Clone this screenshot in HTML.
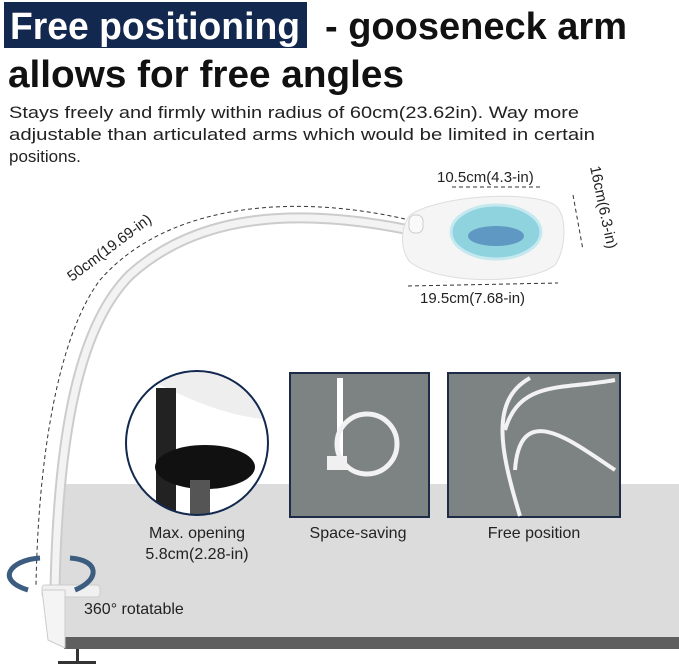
<!DOCTYPE html>
<html><head><meta charset="utf-8"><style>
body{margin:0;width:679px;height:672px;overflow:hidden;background:#fff;font-family:"Liberation Sans",sans-serif}
svg{position:absolute;left:0;top:0}
</style></head><body>
<svg width="679" height="672" viewBox="0 0 679 672" font-family="Liberation Sans, sans-serif">
<rect x="58" y="484" width="621" height="153" fill="#dcdcdc"/>
<rect x="64" y="637" width="615" height="12" fill="#5f5f5f"/>
<rect x="4" y="2" width="303" height="46" fill="#13284f"/>
<text x="10" y="39" font-size="38" font-weight="bold" fill="#fff" textLength="290" lengthAdjust="spacingAndGlyphs">Free positioning</text>
<text x="325" y="39" font-size="38" font-weight="bold" fill="#111" textLength="302" lengthAdjust="spacingAndGlyphs">- gooseneck arm</text>
<text x="8" y="87" font-size="38" font-weight="bold" fill="#111" textLength="396" lengthAdjust="spacingAndGlyphs">allows for free angles</text>
<g font-size="17" fill="#222">
<text x="9" y="118" textLength="570" lengthAdjust="spacingAndGlyphs">Stays freely and firmly within radius of 60cm(23.62in). Way more</text>
<text x="9" y="140" textLength="586" lengthAdjust="spacingAndGlyphs">adjustable than articulated arms which would be limited in certain</text>
<text x="9" y="162">positions.</text>
</g>
<path d="M405 219 C300 195 170 200 100 280 C55 340 38 470 36 585" fill="none" stroke="#333" stroke-width="1" stroke-dasharray="4 3"/>
<path d="M410 230 C300 208 200 212 130 275 C80 325 58 430 55 590" fill="none" stroke="#ccc" stroke-width="11"/>
<path d="M410 230 C300 208 200 212 130 275 C80 325 58 430 55 590" fill="none" stroke="#f3f3f3" stroke-width="7"/>
<rect x="42" y="585" width="58" height="12" rx="3" fill="#f0f0f0" stroke="#ccc"/>
<path d="M42 590 L65 590 L65 648 L48 640 Z" fill="#f4f4f4" stroke="#ccc"/>
<rect x="76" y="649" width="3" height="15" fill="#333"/>
<rect x="58" y="661" width="38" height="3" fill="#333"/>
<path d="M28 590 C-5 580 10 560 40 558 M70 558 C100 560 100 580 75 590" fill="none" stroke="#3c5c80" stroke-width="5"/>
<text x="84" y="614" font-size="16" fill="#222">360° rotatable</text>
<text transform="translate(72 282) rotate(-37)" font-size="15" fill="#222">50cm(19.69-in)</text>
<path d="M410 215 C440 195 530 190 555 205 C568 215 566 250 555 265 C530 285 440 285 410 262 C400 250 400 228 410 215Z" fill="#f5f5f5" stroke="#ddd"/>
<ellipse cx="496" cy="232" rx="45" ry="27" fill="#8fd3df" stroke="#c6e9ef" stroke-width="3"/>
<ellipse cx="496" cy="236" rx="28" ry="10" fill="#2f5da8" opacity="0.5"/>
<rect x="409" y="215" width="14" height="18" rx="6" fill="#fafafa" stroke="#ccc"/>
<g stroke="#333" stroke-dasharray="4 3" fill="none">
<path d="M452 187 L540 187"/><path d="M408 286 L558 283"/><path d="M573 195 L583 250"/>
</g>
<text x="437" y="182" font-size="15" fill="#222">10.5cm(4.3-in)</text>
<text x="420" y="303" font-size="15" fill="#222">19.5cm(7.68-in)</text>
<text transform="translate(590 167) rotate(78)" font-size="15" fill="#222">16cm(6.3-in)</text>
<clipPath id="c"><ellipse cx="197" cy="443" rx="71" ry="72"/></clipPath>
<g clip-path="url(#c)">
<rect x="120" y="370" width="160" height="150" fill="#fff"/>
<path d="M150 370 L280 370 L280 420 C230 420 180 395 150 380Z" fill="#eee"/>
<rect x="156" y="388" width="20" height="130" fill="#222"/>
<ellipse cx="205" cy="467" rx="50" ry="22" fill="#111"/>
<rect x="190" y="480" width="20" height="40" fill="#555"/>
</g>
<ellipse cx="197" cy="443" rx="71" ry="72" fill="none" stroke="#13284f" stroke-width="2"/>
<rect x="290" y="373" width="139" height="144" fill="#7d8283" stroke="#1d2b46" stroke-width="2"/>
<path d="M340 378 L340 470" stroke="#fff" stroke-width="6" fill="none"/>
<circle cx="367" cy="444" r="30" fill="none" stroke="#f2f2f2" stroke-width="5"/>
<rect x="327" y="456" width="20" height="14" fill="#f0f0f0"/>
<rect x="448" y="373" width="172" height="144" fill="#7d8283" stroke="#1d2b46" stroke-width="2"/>
<path d="M530 378 C490 400 500 450 520 516 M505 430 C520 380 560 390 615 380 M515 470 C520 400 570 440 615 470" stroke="#f2f2f2" stroke-width="4" fill="none"/>
<g font-size="16" fill="#222" text-anchor="middle">
<text x="197" y="538">Max. opening</text>
<text x="197" y="559">5.8cm(2.28-in)</text>
<text x="358" y="538">Space-saving</text>
<text x="534" y="538">Free position</text>
</g>
</svg>
</body></html>
